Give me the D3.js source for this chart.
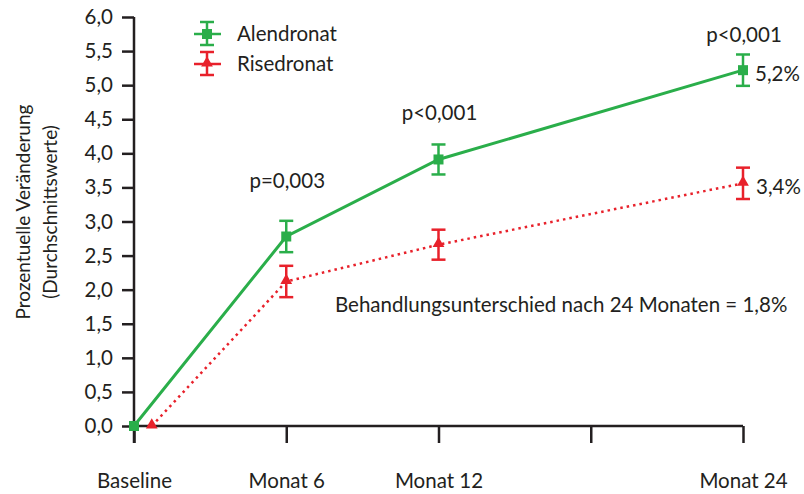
<!DOCTYPE html>
<html>
<head>
<meta charset="utf-8">
<script src="https://d3js.org/d3.v7.min.js"></script>
<style>
  body { margin: 0; background: #fff; }
  text { font-family: Lato, "Open Sans", sans-serif; fill: #231f20; }
</style>
</head>
<body>
<script>
// months on the x axis, labels for the ticks
var tickMonths = [0, 6, 12, 18, 24];
var tickLabels = ["Baseline", "Monat 6", "Monat 12", "", "Monat 24"];
var yTicks = [0, 0.5, 1, 1.5, 2, 2.5, 3, 3.5, 4, 4.5, 5, 5.5, 6];

// Alendronat (mean change and error)
var alendronatMonths = [0, 6, 12, 24];
var alendronatMean = [0, 2.78, 3.91, 5.22];
var alendronatErr = [0, 0.23, 0.22, 0.23];

// Risedronat (baseline point is drawn slightly to the right in the original)
var risedronatMonths = [0.7, 6, 12, 24];
var risedronatMean = [0, 2.12, 2.66, 3.56];
var risedronatErr = [0, 0.23, 0.22, 0.23];

var pLabels = [
  {month: 6, value: 3.5, text: "p=0,003"},
  {month: 12, value: 4.5, text: "p<0,001"},
  {month: 24, value: 5.65, text: "p<0,001"}
];

var green = "#2aae4a", red = "#e8212b", ink = "#231f20";
var fs = 20.5;

var width = 804, height = 494;
var svg = d3.select("body").append("svg")
    .attr("width", width)
    .attr("height", height);

var x = d3.scaleLinear().domain([0, 24]).range([134, 743]);
var y = d3.scaleLinear().domain([0, 6]).range([426, 17]);

// y axis
var yAxis = svg.append("g")
    .attr("transform", "translate(134,0)")
    .call(d3.axisLeft(y).tickValues(yTicks).tickSize(12).tickPadding(9)
        .tickFormat(function(d) { return d3.format(".1f")(d).replace(".", ","); }));
yAxis.select(".domain").remove();
yAxis.selectAll("line").attr("stroke", ink).attr("stroke-width", 2.5);
yAxis.selectAll("text").attr("font-size", fs).style("font-family", "Lato").attr("fill", ink);
svg.append("line")
    .attr("x1", 134).attr("x2", 134)
    .attr("y1", y(6)).attr("y2", 443)
    .attr("stroke", ink).attr("stroke-width", 2.5);

// x axis
var xAxis = svg.append("g")
    .attr("transform", "translate(0,426)")
    .call(d3.axisBottom(x).tickValues(tickMonths).tickSize(17).tickPadding(30)
        .tickFormat(function(d, i) { return tickLabels[i]; }));
xAxis.select(".domain").remove();
xAxis.selectAll("line").attr("stroke", ink).attr("stroke-width", 2.5);
xAxis.selectAll("text").attr("font-size", fs).style("font-family", "Lato").attr("fill", ink);
svg.append("line")
    .attr("x1", 134).attr("x2", 743)
    .attr("y1", 426).attr("y2", 426)
    .attr("stroke", ink).attr("stroke-width", 2.5);

// y label
var yl = svg.append("text")
    .attr("transform", "translate(0,212) rotate(-90)")
    .attr("text-anchor", "middle")
    .attr("font-size", 19);
yl.append("tspan").attr("x", 0).attr("y", 30).text("Prozentuelle Veränderung");
yl.append("tspan").attr("x", 0).attr("y", 57).text("(Durchschnittswerte)");

function makeData(months, mean, err) {
  return months.map(function(m, i) { return {m: m, v: mean[i], e: err[i]}; });
}
var alen = makeData(alendronatMonths, alendronatMean, alendronatErr);
var rise = makeData(risedronatMonths, risedronatMean, risedronatErr);

var line = d3.line().x(function(d) { return x(d.m); }).y(function(d) { return y(d.v); });

svg.append("path").datum(rise)
    .attr("fill", "none").attr("stroke", red).attr("stroke-width", 2.5)
    .attr("stroke-dasharray", "2.5,4").attr("d", line);
svg.append("path").datum(alen)
    .attr("fill", "none").attr("stroke", green).attr("stroke-width", 3).attr("d", line);

function errorBars(data, color) {
  var g = svg.append("g").attr("stroke", color).attr("stroke-width", 2.5);
  data.filter(function(d) { return d.e > 0; }).forEach(function(d) {
    var cx = x(d.m);
    g.append("line").attr("x1", cx).attr("x2", cx).attr("y1", y(d.v + d.e)).attr("y2", y(d.v - d.e));
    g.append("line").attr("x1", cx - 7).attr("x2", cx + 7).attr("y1", y(d.v + d.e)).attr("y2", y(d.v + d.e));
    g.append("line").attr("x1", cx - 7).attr("x2", cx + 7).attr("y1", y(d.v - d.e)).attr("y2", y(d.v - d.e));
  });
}
errorBars(rise, red);
errorBars(alen, green);

var tri = d3.symbol().type(d3.symbolTriangle).size(60);
svg.append("g").selectAll("path").data(rise).enter().append("path")
    .attr("d", tri)
    .attr("transform", function(d) { return "translate(" + x(d.m) + "," + (y(d.v) - 1) + ")"; })
    .attr("fill", red);
svg.append("g").selectAll("rect").data(alen).enter().append("rect")
    .attr("x", function(d) { return x(d.m) - 5; })
    .attr("y", function(d) { return y(d.v) - 5; })
    .attr("width", 10).attr("height", 10)
    .attr("fill", green);

// p values
svg.append("g").selectAll("text").data(pLabels).enter().append("text")
    .attr("x", function(d) { return x(d.month) + 1; })
    .attr("y", function(d) { return y(d.value) + 1; })
    .attr("text-anchor", "middle")
    .attr("font-size", fs)
    .text(function(d) { return d.text; });

svg.append("text").attr("x", 755).attr("y", 81).attr("font-size", fs).text("5,2%");
svg.append("text").attr("x", 756).attr("y", 194).attr("font-size", fs).text("3,4%");
svg.append("text").attr("x", 335).attr("y", 312).attr("font-size", fs)
    .text("Behandlungsunterschied nach 24 Monaten = 1,8%");

// legend
var legend = [
  {name: "Alendronat", color: green, y: 34, marker: "square"},
  {name: "Risedronat", color: red, y: 64, marker: "triangle"}
];
legend.forEach(function(l) {
  var g = svg.append("g").attr("stroke", l.color).attr("stroke-width", 2.5);
  g.append("line").attr("x1", 194).attr("x2", 221).attr("y1", l.y).attr("y2", l.y);
  g.append("line").attr("x1", 207).attr("x2", 207).attr("y1", l.y - 12).attr("y2", l.y + 11);
  g.append("line").attr("x1", 200).attr("x2", 214).attr("y1", l.y - 12).attr("y2", l.y - 12);
  g.append("line").attr("x1", 200).attr("x2", 214).attr("y1", l.y + 11).attr("y2", l.y + 11);
  if (l.marker == "square") {
    svg.append("rect").attr("x", 202).attr("y", l.y - 5).attr("width", 10).attr("height", 10).attr("fill", l.color);
  } else {
    svg.append("path").attr("d", tri).attr("transform", "translate(207," + (l.y - 1) + ")").attr("fill", l.color);
  }
  svg.append("text").attr("x", 237).attr("y", l.y + 7).attr("font-size", fs).text(l.name);
});
</script>
</body>
</html>
